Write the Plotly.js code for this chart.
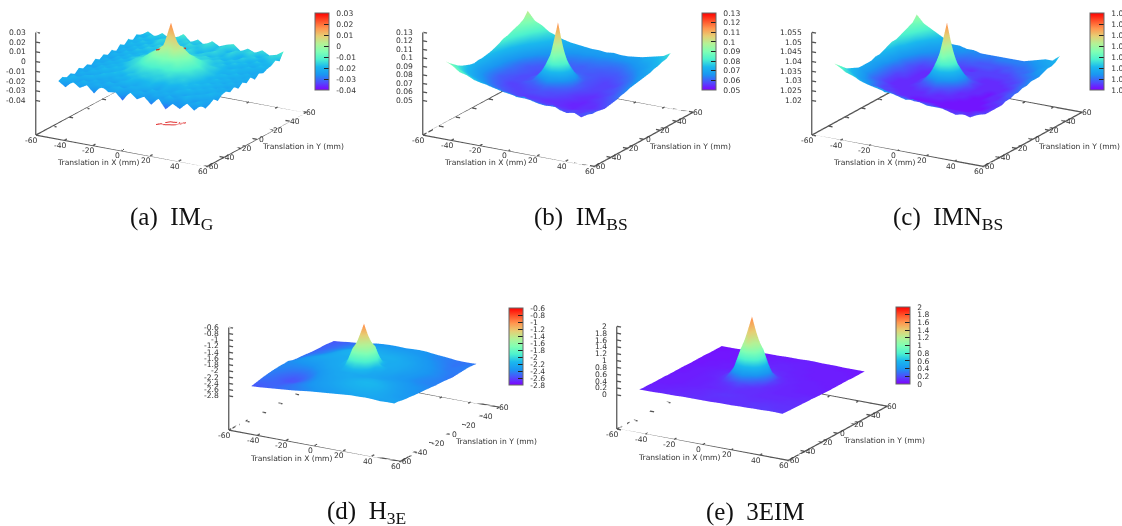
<!DOCTYPE html>
<html><head><meta charset="utf-8">
<script src="https://cdn.plot.ly/plotly-3.0.1.min.js"></script>
<style>html,body{margin:0;padding:0;background:#fff;overflow:hidden}#c{width:1122px;height:526px}</style>
</head><body><div id="c"></div>
<script>
const gridXY=[-50,-45,-40,-35,-30,-25,-20,-15,-10,-5,0,5,10,15,20,25,30,35,40,45,50];
const axisTicks=[-60,-40,-20,0,20,40,60];
const captions=['(a)  IM<sub>G</sub>','(b)  IM<sub>BS</sub>','(c)  IMN<sub>BS</sub>','(d)  H<sub>3E</sub>','(e)  3EIM'];
const axisXTitle='Translation in X (mm)', axisYTitle='Translation in Y (mm)';
const ticksG=[0.03,0.02,0.01,0,-0.01,-0.02,-0.03,-0.04];
const ticksBS=[0.13,0.12,0.11,0.1,0.09,0.08,0.07,0.06,0.05];
const ticksNBS=[1.055,1.05,1.045,1.04,1.035,1.03,1.025,1.02];
const ticks3E=[-0.6,-0.8,-1,-1.2,-1.4,-1.6,-1.8,-2,-2.2,-2.4,-2.6,-2.8];
const ticks3EIM=[2,1.8,1.6,1.4,1.2,1,0.8,0.6,0.4,0.2,0];
const floorG=-0.0755, floorBS=0.0094, floorNBS=1.0022, floor3E=-3.9, floor3EIM=-1.0;
// thousandths
const zG=[
[-22,-27,-20,-25,-21,-28,-19,-24,-23,-30,-20,-26,-22,-29,-21,-31,-24,-28,-21,-27,-20],
[-20,-21,-24,-19,-23,-20,-25,-21,-19,-24,-22,-20,-25,-21,-24,-19,-26,-22,-23,-20,-26],
[-23,-19,-22,-24,-20,-23,-19,-22,-24,-20,-21,-24,-19,-22,-20,-24,-21,-19,-25,-22,-24],
[-21,-24,-20,-19,-23,-21,-24,-20,-19,-22,-20,-19,-23,-20,-22,-19,-23,-21,-20,-23,-21],
[-24,-20,-23,-21,-18,-22,-19,-21,-18,-20,-19,-18,-21,-19,-21,-20,-18,-22,-21,-19,-25],
[-20,-23,-19,-22,-20,-18,-21,-17,-18,-16,-17,-16,-18,-17,-19,-18,-21,-19,-22,-20,-21],
[-23,-20,-22,-18,-21,-19,-17,-18,-15,-16,-15,-16,-14,-17,-16,-19,-18,-21,-19,-22,-20],
[-21,-24,-19,-21,-18,-20,-16,-15,-13,-12,-14,-12,-13,-15,-16,-18,-20,-18,-22,-20,-23],
[-24,-20,-22,-19,-20,-17,-15,-12,-8,-9,-6,-10,-7,-12,-14,-17,-19,-21,-19,-23,-20],
[-20,-23,-19,-21,-18,-16,-14,-10,-5,1,-3,2,-6,-9,-14,-16,-20,-18,-22,-19,-24],
[-23,-20,-22,-18,-20,-15,-13,-7,-2,4,28,5,-1,-8,-12,-16,-18,-21,-19,-22,-20],
[-20,-24,-19,-21,-17,-16,-14,-9,-6,2,-1,3,-4,-10,-14,-17,-19,-18,-22,-20,-23],
[-23,-19,-22,-18,-20,-16,-14,-12,-7,-10,-5,-9,-8,-12,-15,-16,-20,-21,-18,-22,-19],
[-20,-23,-18,-21,-18,-19,-15,-14,-13,-11,-13,-12,-14,-14,-17,-18,-19,-18,-22,-19,-24],
[-24,-19,-22,-17,-20,-17,-18,-15,-16,-14,-15,-14,-16,-15,-18,-17,-21,-19,-20,-23,-20],
[-19,-22,-18,-20,-16,-19,-16,-18,-15,-17,-16,-17,-15,-18,-16,-20,-17,-21,-18,-21,-22],
[-22,-18,-21,-17,-19,-15,-18,-16,-19,-15,-18,-16,-19,-17,-20,-17,-19,-18,-22,-18,-20],
[-18,-21,-17,-20,-16,-19,-17,-15,-18,-16,-20,-17,-15,-19,-17,-20,-16,-21,-17,-20,-19],
[-22,-17,-20,-18,-15,-18,-16,-19,-14,-18,-16,-19,-16,-18,-15,-21,-18,-16,-21,-18,-16],
[-18,-21,-16,-19,-17,-13,-18,-15,-19,-16,-14,-18,-15,-20,-16,-17,-14,-20,-17,-15,-19],
[-21,-16,-20,-15,-19,-17,-12,-19,-15,-20,-14,-18,-15,-13,-19,-15,-18,-14,-18,-16,-11]];
const zBS=[
[94,90,84,82,78,76,75,73,71,70,67,69,66,64,63,65,61,59,61,57,62],
[89,85,81,77,74,72,70,69,66,65,64,64,62,61,60,60,57,58,57,59,60],
[85,80,76,73,70,67,65,63,62,60,60,59,58,57,57,56,56,57,56,58,60],
[81,76,72,69,66,63,61,60,58,58,57,57,56,56,55,55,54,55,56,57,59],
[78,73,69,66,63,61,59,58,57,56,56,56,55,55,55,54,54,55,55,56,58],
[76,71,67,64,61,59,58,57,57,58,58,58,57,56,55,54,54,55,55,57,59],
[74,69,65,62,60,58,57,57,58,58,59,58,58,57,56,55,54,55,56,58,60],
[73,68,64,61,59,57,57,58,59,60,62,60,59,58,56,55,55,56,57,59,61],
[74,68,64,60,59,58,58,60,61,66,70,66,62,59,57,56,55,56,58,60,63],
[74,69,64,61,59,58,58,59,68,80,88,79,67,60,58,57,56,57,58,61,64],
[75,69,65,61,60,58,58,61,71,90,128,88,70,60,58,57,57,58,59,62,66],
[76,70,65,62,60,59,58,59,67,79,90,78,66,59,58,57,57,58,60,63,67],
[78,71,66,62,60,59,58,59,62,67,71,66,61,59,58,57,57,58,61,64,68],
[80,73,68,63,60,59,59,59,60,61,63,61,60,59,58,57,58,59,62,65,69],
[83,75,70,65,62,60,59,59,59,60,60,60,59,59,58,58,59,61,63,67,70],
[84,78,72,68,64,62,61,60,60,60,60,60,60,59,59,59,60,62,65,68,71],
[86,80,75,71,67,65,63,62,61,61,60,61,60,60,60,60,62,64,67,70,73],
[88,83,77,74,70,67,65,64,63,63,62,62,62,61,61,62,64,66,68,71,74],
[90,85,80,76,73,70,68,66,65,65,64,64,63,63,63,64,66,68,70,73,76],
[93,88,83,78,75,72,71,69,68,68,67,67,66,66,66,67,68,71,72,75,77],
[100,90,86,80,77,74,72,71,70,69,69,68,69,68,68,69,70,72,74,76,81]];
// thousandths above 1
const zNBS=[
[38,36,34,33,31,30,30,28,28,27,26,27,26,25,25,25,24,23,24,23,25],
[36,33,32,30,29,28,28,27,26,25,25,25,24,24,24,23,22,23,22,23,24],
[34,32,30,28,27,26,25,25,24,24,23,23,23,22,22,22,22,22,22,23,23],
[32,30,28,27,25,24,24,23,23,22,22,22,22,21,21,21,21,21,22,22,23],
[31,29,27,26,24,23,23,22,22,21,21,21,21,21,21,21,21,21,21,22,23],
[30,28,26,25,23,23,22,22,22,22,22,22,22,21,21,21,21,21,21,22,23],
[29,27,25,24,23,22,22,22,22,22,23,22,22,22,21,21,21,21,22,22,23],
[29,27,25,23,22,22,22,22,23,23,24,23,23,22,22,21,21,21,22,23,24],
[29,27,25,23,22,22,22,23,24,26,28,26,24,22,22,21,21,22,22,23,24],
[29,27,25,23,22,22,22,23,27,33,38,33,27,23,22,22,21,22,22,24,25],
[30,27,25,23,23,22,22,24,28,38,54,37,28,24,22,22,21,22,23,24,25],
[30,28,25,24,23,22,22,23,27,33,38,32,27,23,22,22,22,22,23,24,26],
[31,28,26,24,23,22,22,23,24,26,28,26,24,23,22,22,22,22,23,25,26],
[32,29,26,24,23,22,22,22,23,24,24,24,23,22,22,22,22,23,24,25,27],
[33,29,27,25,23,23,22,22,23,23,23,23,23,22,22,22,23,23,24,26,27],
[33,31,28,26,24,24,23,23,23,23,23,23,23,23,23,23,23,24,25,26,27],
[34,32,29,27,26,25,24,24,23,23,22,23,23,23,23,23,24,25,26,27,28],
[35,33,30,28,27,26,25,25,24,24,24,24,24,23,24,24,25,25,26,28,29],
[36,34,32,29,28,27,26,26,25,25,24,24,24,24,24,25,25,26,27,28,29],
[37,35,33,31,29,28,27,27,26,26,26,25,26,26,26,26,26,27,28,29,30],
[40,36,34,32,30,28,28,27,27,26,26,26,26,26,26,26,27,28,29,29,32]];
// hundredths
const z3E=[
[-255,-254,-252,-250,-248,-246,-244,-241,-238,-236,-234,-232,-230,-228,-226,-226,-225,-226,-228,-227,-227],
[-252,-252,-251,-250,-247,-245,-242,-239,-236,-233,-231,-229,-226,-224,-222,-222,-223,-224,-226,-227,-228],
[-249,-250,-251,-251,-248,-244,-240,-236,-233,-230,-228,-225,-222,-220,-219,-219,-221,-224,-227,-229,-231],
[-246,-248,-251,-253,-251,-245,-240,-235,-231,-228,-225,-222,-219,-217,-215,-216,-219,-224,-228,-232,-233],
[-244,-247,-252,-256,-254,-247,-240,-234,-230,-227,-224,-221,-218,-215,-214,-215,-219,-225,-229,-232,-234],
[-242,-246,-250,-254,-252,-246,-238,-232,-228,-226,-224,-221,-219,-217,-216,-218,-222,-227,-231,-234,-236],
[-241,-243,-247,-250,-248,-243,-235,-230,-226,-224,-223,-223,-222,-220,-220,-222,-225,-229,-232,-235,-237],
[-240,-241,-243,-244,-243,-238,-232,-227,-225,-224,-222,-224,-225,-225,-226,-226,-228,-231,-234,-236,-238],
[-240,-239,-239,-239,-237,-232,-227,-225,-223,-208,-198,-208,-224,-226,-229,-230,-231,-233,-236,-237,-239],
[-239,-236,-235,-234,-232,-228,-225,-223,-218,-160,-150,-162,-220,-225,-228,-232,-234,-236,-238,-239,-240],
[-244,-236,-231,-228,-228,-226,-224,-222,-204,-150,-85,-148,-202,-224,-226,-232,-234,-238,-240,-241,-242],
[-246,-238,-232,-227,-224,-224,-223,-221,-218,-158,-148,-160,-220,-223,-224,-230,-233,-237,-240,-241,-242],
[-247,-241,-236,-230,-225,-222,-222,-221,-222,-206,-196,-208,-222,-222,-224,-228,-232,-236,-239,-241,-243],
[-248,-243,-239,-233,-226,-221,-218,-219,-220,-221,-220,-221,-221,-222,-224,-228,-232,-235,-238,-241,-244],
[-250,-246,-242,-236,-228,-221,-218,-218,-218,-218,-218,-219,-220,-223,-225,-229,-233,-236,-239,-242,-246],
[-251,-247,-243,-238,-231,-225,-220,-219,-219,-220,-221,-221,-222,-225,-227,-231,-234,-237,-240,-243,-245],
[-252,-249,-245,-240,-235,-230,-225,-222,-222,-223,-224,-224,-225,-227,-230,-233,-236,-239,-243,-244,-244],
[-252,-250,-247,-243,-239,-235,-230,-227,-226,-226,-227,-227,-228,-229,-232,-235,-238,-241,-244,-244,-243],
[-252,-251,-248,-244,-240,-237,-233,-230,-229,-230,-230,-230,-231,-233,-235,-238,-240,-243,-246,-244,-242],
[-254,-252,-250,-247,-243,-239,-236,-233,-233,-233,-233,-233,-234,-235,-237,-240,-242,-244,-246,-245,-243],
[-255,-253,-250,-248,-245,-242,-238,-236,-235,-235,-236,-235,-234,-235,-238,-240,-242,-245,-246,-246,-245]];
const z3EIM=[
[10,10,10,11,11,11,12,12,12,12,12,13,13,13,14,14,15,15,16,16,15],
[9,10,10,10,11,11,11,12,12,13,12,13,13,13,13,14,14,15,14,14,14],
[9,9,9,10,10,10,11,11,12,13,13,13,13,13,13,14,14,14,13,13,13],
[8,9,9,9,10,10,11,11,12,13,14,14,13,13,12,12,13,13,13,13,13],
[8,8,8,9,9,10,10,11,12,12,13,13,13,12,12,12,12,12,12,12,12],
[8,8,8,8,9,9,10,10,11,12,13,12,12,12,11,11,11,11,12,12,12],
[8,8,8,8,9,9,10,11,12,13,15,13,12,12,11,11,11,11,11,11,11],
[7,8,8,8,9,9,10,11,14,17,22,16,13,12,11,10,10,10,10,11,11],
[7,8,8,8,9,9,10,13,22,40,52,38,20,12,11,10,10,10,10,10,10],
[7,7,8,8,9,10,11,16,44,104,128,102,42,15,11,10,10,9,9,9,9],
[7,7,8,8,9,10,11,20,58,124,195,122,56,18,11,10,10,9,9,9,9],
[7,7,8,8,9,10,11,15,42,100,126,98,40,14,11,10,9,9,9,9,8],
[6,7,7,8,8,9,10,12,20,38,50,36,18,12,10,10,9,9,9,8,8],
[6,6,7,7,8,8,9,11,13,16,20,15,12,10,10,9,9,9,8,8,8],
[6,6,7,7,8,8,9,10,11,12,13,12,11,10,9,9,8,8,8,8,8],
[6,6,6,7,7,8,8,9,10,10,11,10,10,9,9,8,8,8,8,8,8],
[6,6,6,6,7,7,8,9,9,10,10,10,10,9,9,8,8,8,8,8,8],
[5,6,6,6,7,7,7,8,9,9,10,10,9,9,8,8,8,8,8,8,7],
[5,6,6,6,6,7,7,8,8,9,9,9,9,9,8,8,8,8,8,7,7],
[5,5,6,6,6,7,7,7,8,8,8,8,9,8,8,8,8,7,7,7,7],
[5,5,5,6,6,6,7,7,7,8,8,8,9,9,8,8,8,7,7,7,7]];
const contourX=[-7,-5,-3,-1,1,3,5,7,4,2,0,-2,-4,-7];
const contourY=[-6,-3,-4,-3,-2,-1,2,6,4,4,3,3,0,-6];
const contourLevel=0.001;
const palette=[[0,'#8000ff'],[.1,'#4d4ffc'],[.2,'#1a96f2'],[.3,'#1ab8ee'],[.4,'#4df2ce'],[.5,'#80ffb4'],[.6,'#b3f296'],[.7,'#e6ce74'],[.8,'#ff964f'],[.9,'#ff4f28'],[1,'#ff0000']];
const tipColourCap=.82;

const W=1122,H=526;
const panels=[
 {z:zG.map(r=>r.map(v=>v/1000)),t:ticksG,f:floorG,ox:0,oy:0,bx:315},
 {z:zBS.map(r=>r.map(v=>v/1000)),t:ticksBS,f:floorBS,ox:387,oy:0,bx:702},
 {z:zNBS.map(r=>r.map(v=>1+v/1000)),t:ticksNBS,f:floorNBS,ox:776,oy:0,bx:1090},
 {z:z3E.map(r=>r.map(v=>v/100)),t:ticks3E,f:floor3E,ox:193,oy:295,bx:509},
 {z:z3EIM.map(r=>r.map(v=>v/100)),t:ticks3EIM,f:floor3EIM,ox:581,oy:294,bx:896}];
const capX=[172,581,948,366,755], capY=[218,218,218,512,512];
const data=[],layout={width:W,height:H,margin:{l:0,r:0,t:0,b:0,autoexpand:false},paper_bgcolor:'#fff',showlegend:false,annotations:[]};
const lab='DejaVu Sans', grey='#333', lineCol='#555';
const dir={x:.474,y:-.822,z:.316}, L=1.8, cz=-.208;
function tick3d(x,y,z,text,xs,ys,anchor){return {x,y,z,text:String(text),showarrow:false,xshift:xs,yshift:ys,xanchor:anchor||'center',yanchor:'middle',font:{family:lab,size:7.6,color:grey}};}
panels.forEach((p,i)=>{
 const id=i?'scene'+(i+1):'scene';
 const zmax=p.t.reduce((a,b)=>Math.max(a,b));
 const zmin=p.t.reduce((a,b)=>Math.min(a,b));
 const cap=zmin+tipColourCap*(zmax-zmin);
 data.push({type:'surface',scene:id,x:gridXY,y:gridXY,z:p.z,surfacecolor:p.z.map(r=>r.map(v=>Math.min(v,cap))),cmin:zmin,cmax:zmax,colorscale:palette,hoverinfo:'skip',
   lighting:{ambient:1,diffuse:0,specular:0,roughness:1,fresnel:0},
   colorbar:{x:p.bx/W,xanchor:'left',y:1-(p.oy+13)/H,yanchor:'top',lenmode:'pixels',len:77,thicknessmode:'pixels',thickness:14,xpad:0,ypad:0,
     tickvals:p.t,ticktext:p.t.map(v=>'\u00a0\u00a0'+v),ticks:'inside',ticklen:5,tickcolor:'#222',tickwidth:1,outlinecolor:'#666',outlinewidth:1,
     tickfont:{family:lab,size:7.6,color:grey}}});
 const lineStyle={color:lineCol,width:2.6};
 data.push({type:'scatter3d',scene:id,mode:'lines',x:[-60,60,60,-60,-60],y:[-60,-60,60,60,-60],z:[p.f,p.f,p.f,p.f,p.f],line:lineStyle,hoverinfo:'skip',showlegend:false});
 data.push({type:'scatter3d',scene:id,mode:'lines',x:[-60,-60],y:[-60,-60],z:[p.f,zmax],line:lineStyle,hoverinfo:'skip',showlegend:false});
 const lx=[],ly=[],lz=[];
 axisTicks.forEach(v=>{
   lx.push(v,v,null,v,v,null,60,57,null,-60,-57,null);
   ly.push(-60,-57,null,60,57,null,v,v,null,v,v,null);
   lz.push(p.f,p.f,null,p.f,p.f,null,p.f,p.f,null,p.f,p.f,null);
 });
 p.t.forEach(v=>{lx.push(-60,-57,null);ly.push(-60,-60,null);lz.push(v,v,null);});
 data.push({type:'scatter3d',scene:id,mode:'lines',x:lx,y:ly,z:lz,line:lineStyle,hoverinfo:'skip',showlegend:false});
 const ax={showgrid:false,zeroline:false,showbackground:false,showspikes:false,showticklabels:false,showline:false,ticks:'',title:{text:''}};
 const ann=[];
 axisTicks.forEach(v=>{ann.push(tick3d(v,-60,p.f,v,-4,-5));ann.push(tick3d(60,v,p.f,v,5,0));});
 p.t.forEach(v=>ann.push(tick3d(-60,-60,v,v,-8,0,'right')));
 layout[id]={domain:{x:[(p.ox+1)/W,(p.ox+341)/W],y:[1-(p.oy+180)/H,1-(p.oy)/H]},
   aspectmode:'manual',aspectratio:{x:2.2,y:2.2,z:1.204},
   camera:{eye:{x:dir.x*L,y:dir.y*L,z:dir.z*L+cz},center:{x:0,y:0,z:cz},up:{x:0,y:0,z:1},projection:{type:'orthographic'}},
   xaxis:{...ax,range:[-60,60]},yaxis:{...ax,range:[-60,60]},
   zaxis:{...ax,range:[p.f,zmax]},annotations:ann,bgcolor:'#fff'};
 layout.annotations.push({xref:'paper',yref:'paper',x:(p.ox+98)/W,y:1-(p.oy+163)/H,xanchor:'center',yanchor:'middle',text:axisXTitle,showarrow:false,font:{family:lab,size:7.6,color:grey}});
 layout.annotations.push({xref:'paper',yref:'paper',x:(p.ox+303)/W,y:1-(p.oy+146)/H,xanchor:'center',yanchor:'middle',text:axisYTitle,showarrow:false,font:{family:lab,size:7.6,color:grey}});
 layout.annotations.push({xref:'paper',yref:'paper',x:capX[i]/W,y:1-capY[i]/H,xanchor:'center',yanchor:'middle',text:captions[i],showarrow:false,font:{family:'Liberation Serif',size:25,color:'#111'}});
});
data.push({type:'scatter3d',scene:'scene',mode:'lines',x:contourX,y:contourY,z:contourX.map(()=>contourLevel),line:{color:'#c83020',width:2.5},hoverinfo:'skip',showlegend:false});
data.push({type:'scatter3d',scene:'scene',mode:'lines',x:contourX,y:contourY,z:contourX.map(()=>floorG),line:{color:'#e03030',width:2},hoverinfo:'skip',showlegend:false});
Plotly.newPlot('c',data,layout,{displayModeBar:false});
</script></body></html>
